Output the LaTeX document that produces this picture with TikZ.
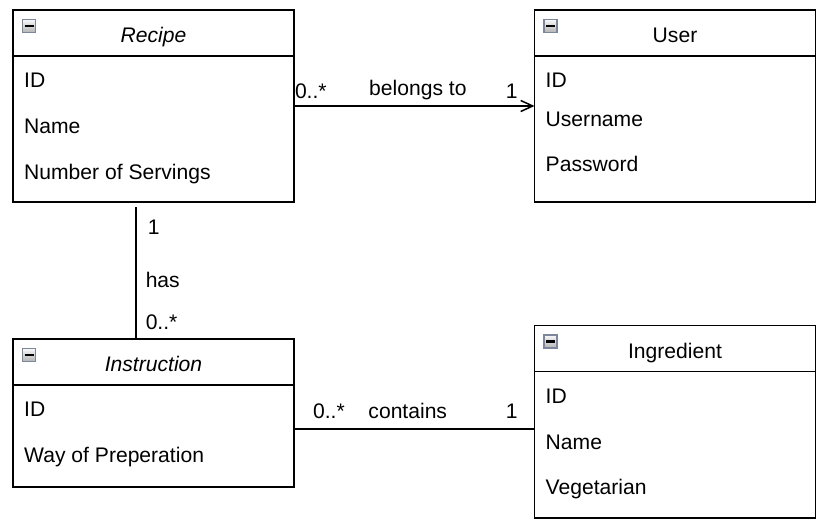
\documentclass[tikz,border=0pt]{standalone}
\usepackage{fontspec}
\setmainfont{Liberation Sans}
\usetikzlibrary{arrows.meta,positioning}

\begin{document}
\begin{tikzpicture}[
            x=1pt,y=-1pt,
            every node/.style={font=\fontsize{21.1}{25}\selectfont},
            umlclass/.style={rectangle,draw=black,line width=1.5pt,minimum width=281pt,outer sep=0pt,inner sep=0pt,anchor=north west},
            classname/.style={inner sep=0pt,text height=15pt,text depth=0pt},
            attr/.style={inner sep=0pt,text height=15pt,text depth=0pt},
            toggle/.style={rectangle,draw=toggleedge,line width=1.6pt,minimum size=13pt,inner sep=0pt,
              top color=gray!5,bottom color=gray!60,
              path picture={\draw[black,line width=2.6pt] ([xshift=-4.5pt]path picture bounding box.center) -- ([xshift=4.5pt]path picture bounding box.center);}},
            assoc/.style={draw=black,line width=1.5pt},
            mult/.style={inner sep=0pt,text height=15pt,text depth=0pt}
          ]
          \definecolor{toggleedge}{RGB}{125,135,155}
          \useasboundingbox (0,0) rectangle (837,532);

          % classes
          \node[umlclass,minimum height=192pt] (recipe) at (13,10) {};
          \node[umlclass,minimum height=192pt] (user) at (534.5,10) {};
          \node[umlclass,minimum height=148pt] (instr) at (13,339) {};
          \node[umlclass,minimum height=192.5pt] (ingr) at (534.5,325.5) {};
          \foreach \c in {recipe,user,instr,ingr}
            \draw[line width=1.5pt] ([yshift=-46pt]\c.north west) -- ([yshift=-46pt]\c.north east);

          % Recipe
          \node[toggle,below right=16pt and 16pt of recipe.north west,anchor=center] (recipeTgl) {};
          \node[classname,below=25pt of recipe.north,anchor=center] (recipeName) {\itshape Recipe};
          \node[attr,below right=70pt and 11pt of recipe.north west,anchor=west] (recipeId) {ID};
          \node[attr,below=46pt of recipeId.west,anchor=west] (recipeNm) {Name};
          \node[attr,below=46pt of recipeNm.west,anchor=west] (recipeSrv) {Number of Servings};

          % User
          \node[toggle,below right=16pt and 16pt of user.north west,anchor=center] (userTgl) {};
          \node[classname,below=25pt of user.north,anchor=center] (userName) {User};
          \node[attr,below right=70pt and 11pt of user.north west,anchor=west] (userId) {ID};
          \node[attr,below=39pt of userId.west,anchor=west] (userUn) {Username};
          \node[attr,below=45pt of userUn.west,anchor=west] (userPw) {Password};

          % Instruction
          \node[toggle,below right=16pt and 16pt of instr.north west,anchor=center] (instrTgl) {};
          \node[classname,below=25pt of instr.north,anchor=center] (instrName) {\itshape Instruction};
          \node[attr,below right=70pt and 11pt of instr.north west,anchor=west] (instrId) {ID};
          \node[attr,below=46pt of instrId.west,anchor=west] (instrWay) {Way of Preperation};

          % Ingredient
          \node[toggle,below right=16pt and 16pt of ingr.north west,anchor=center] (ingrTgl) {};
          \node[classname,below=25pt of ingr.north,anchor=center] (ingrName) {Ingredient};
          \node[attr,below right=70pt and 11pt of ingr.north west,anchor=west] (ingrId) {ID};
          \node[attr,below=46pt of ingrId.west,anchor=west] (ingrNm) {Name};
          \node[attr,below=45pt of ingrNm.west,anchor=west] (ingrVeg) {Vegetarian};

          % associations
          \draw[assoc,-{Straight Barb[length=12pt,width=11pt]}] (recipe.east) to
            node[mult,pos=0.07,above=6.5pt] {0..*}
            node[mult,pos=0.515,above=9.5pt] {belongs to}
            node[mult,pos=0.905,above=6.5pt] {1} (user.west);
          \draw[assoc] ([xshift=-17.5pt,yshift=-5pt]recipe.south) to
            node[mult,pos=0.15,right=11pt] {1}
            node[mult,pos=0.553,right=9pt] {has}
            node[mult,pos=0.871,right=9pt] {0..*} ([xshift=-17.5pt]instr.north);
          \draw[assoc] ([yshift=-16pt]instr.east) to
            node[mult,pos=0.145,above=10pt] {0..*}
            node[mult,pos=0.473,above=10pt] {contains}
            node[mult,pos=0.905,above=10pt] {1} ([yshift=-16pt]instr.east -| ingr.west);
        \end{tikzpicture}
\end{document}
